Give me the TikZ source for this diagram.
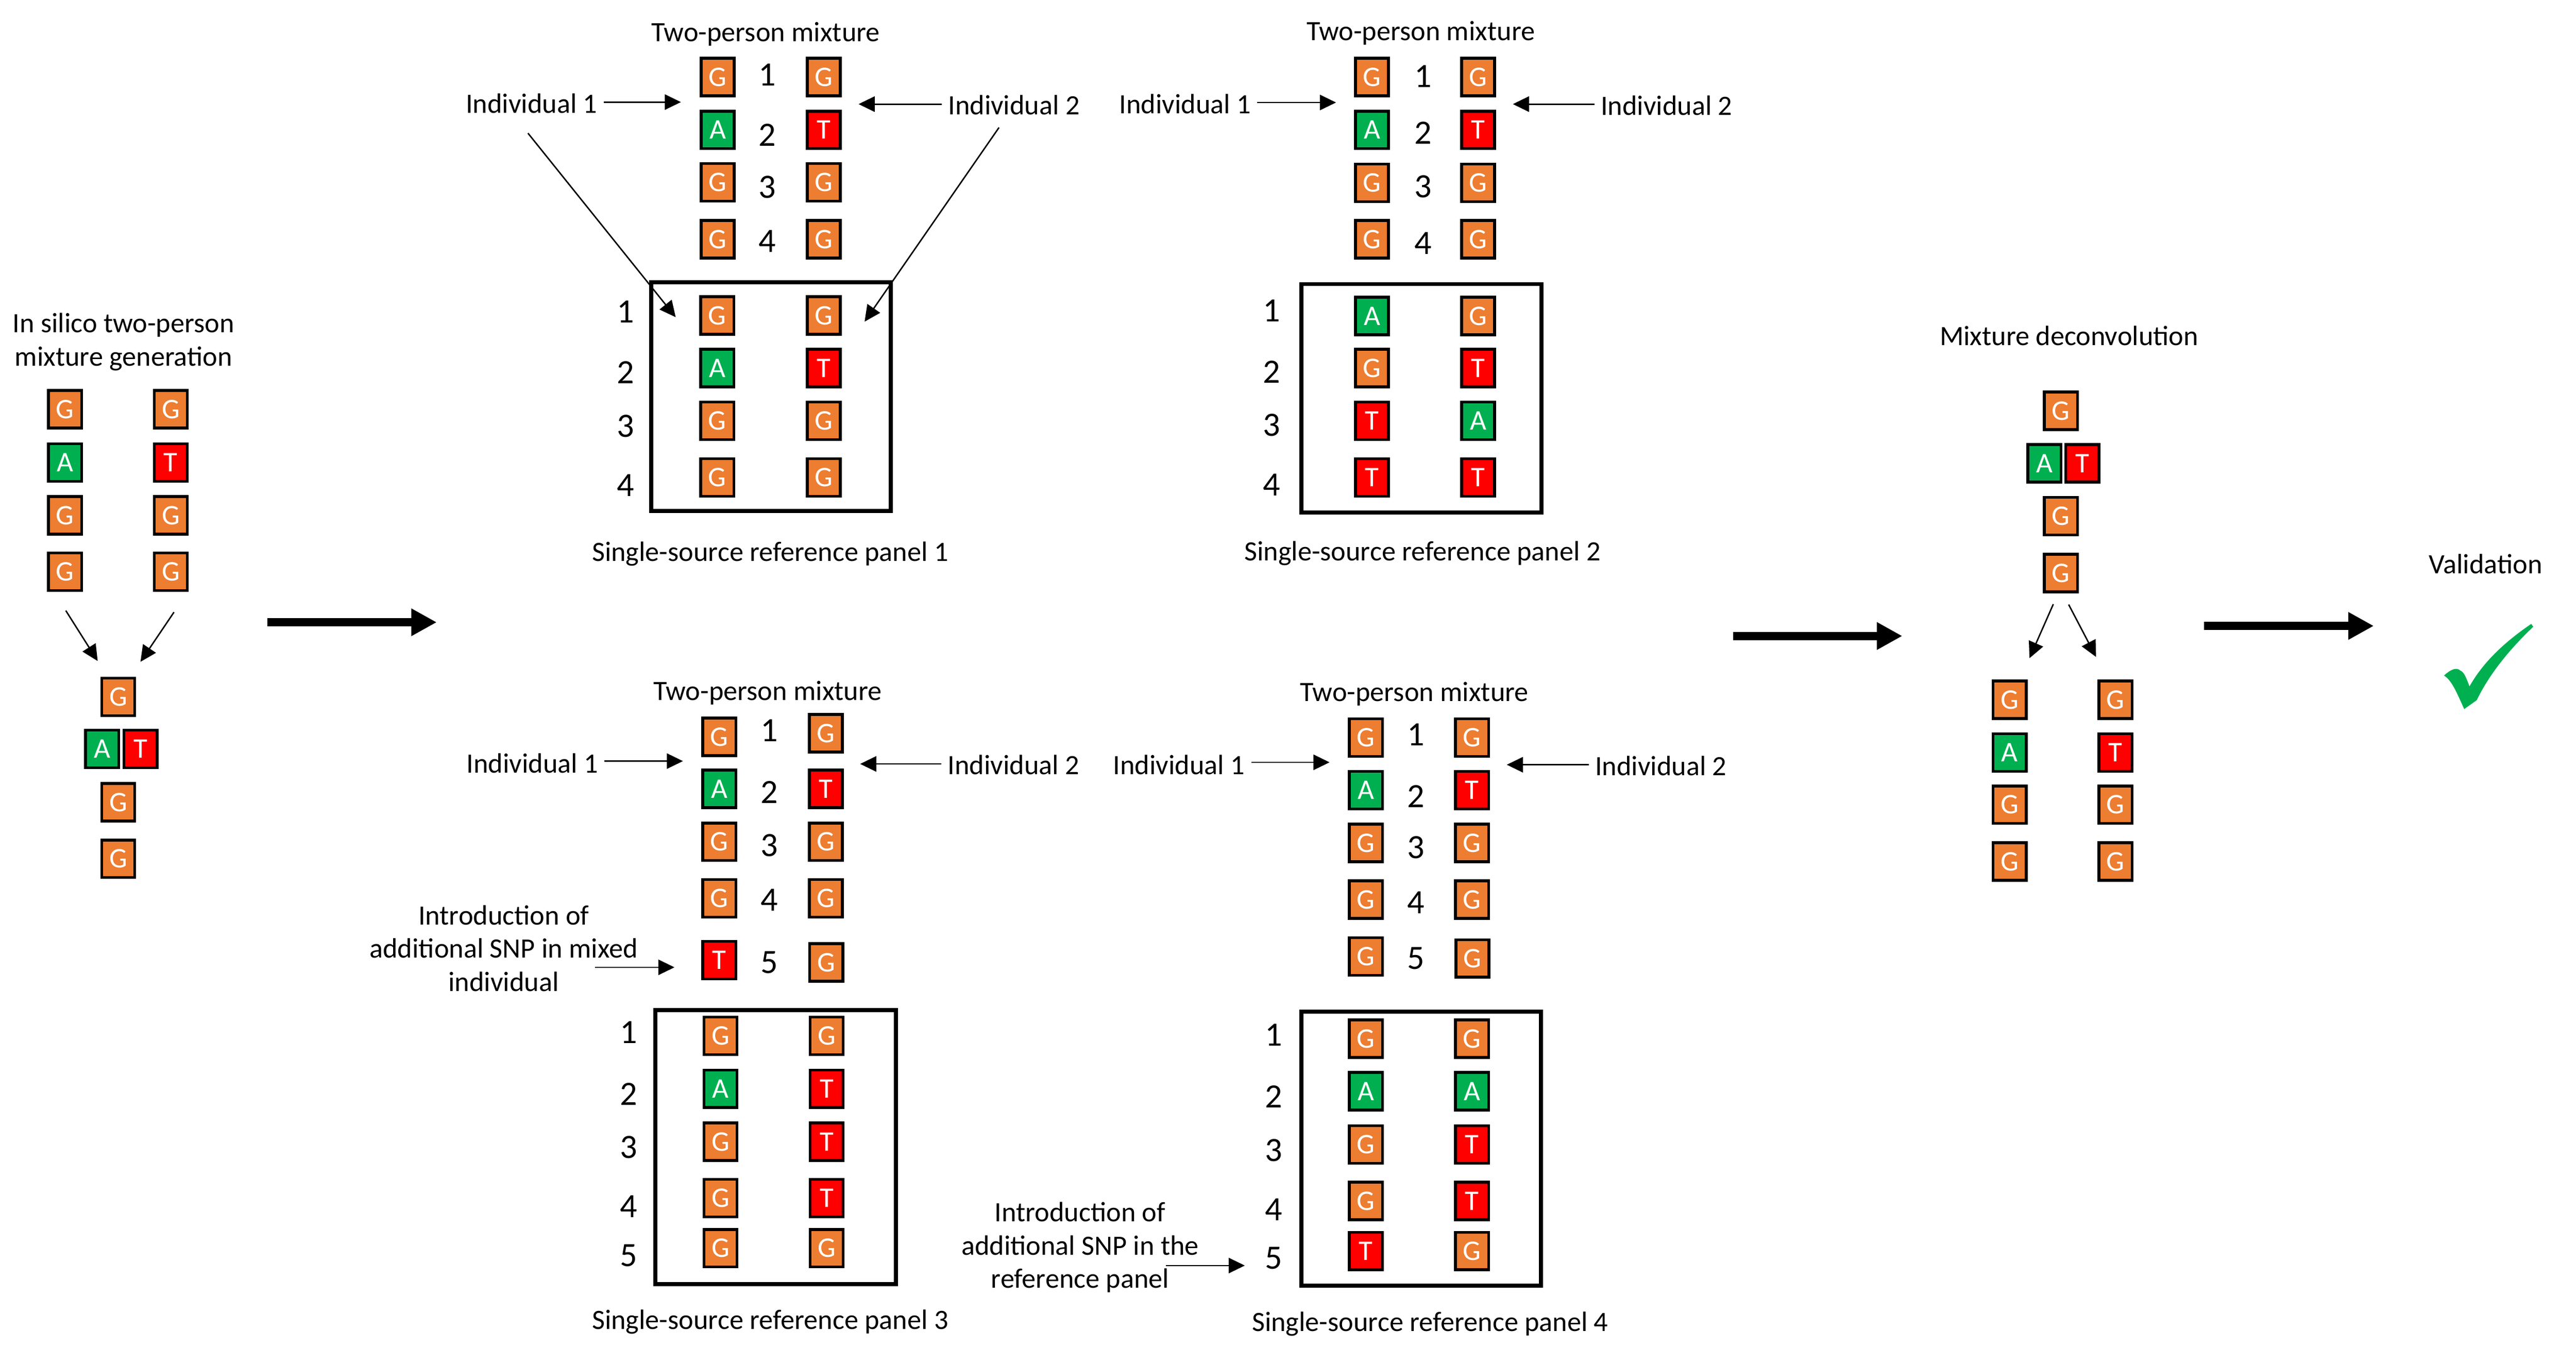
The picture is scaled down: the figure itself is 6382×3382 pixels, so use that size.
\documentclass[tikz,border=0pt]{standalone}
\usepackage{fontspec}
\setmainfont{Carlito}
\usepackage{xcolor}
\usetikzlibrary{arrows.meta}
\definecolor{tileorange}{HTML}{ED7D31}
\definecolor{tilegreen}{HTML}{00B050}
\definecolor{tilered}{HTML}{FF0000}
\tikzset{
  basetile/.style={rectangle, draw=black, line width=0.07cm, minimum width=0.82cm, minimum height=0.93cm, inner sep=0pt, text=white, font=\fontsize{20}{24}\selectfont},
  gtile/.style={basetile, fill=tileorange},
  atile/.style={basetile, fill=tilegreen},
  ttile/.style={basetile, fill=tilered},
  lbl/.style={inner sep=0.15cm, align=center, font=\fontsize{19.7}{23.5}\selectfont},
  numlbl/.style={inner sep=0pt, font=\fontsize{24}{28}\selectfont},
  panelbox/.style={rectangle, draw=black, line width=0.1cm, inner sep=0pt},
  thinarrow/.style={-{Triangle[length=0.4cm, width=0.38cm]}, line width=0.035cm},
  thickarrow/.style={-{Triangle[length=0.63cm, width=0.64cm]}, line width=0.21cm}
}
\begin{document}
\begin{tikzpicture}[x=0.01cm, y=-0.01cm]
        \useasboundingbox (0, 0) rectangle (6382, 3382);

        % generation
        \node[lbl] at (306, 847) (gentitle) {In silico two-person\\mixture generation};
        \node[gtile] at (161, 1014) (il1) {G};
        \node[atile] at (161, 1146) (il2) {A};
        \node[gtile] at (161, 1277) (il3) {G};
        \node[gtile] at (161, 1417) (il4) {G};
        \node[gtile] at (423, 1014) (ir1) {G};
        \node[ttile] at (423, 1146) (ir2) {T};
        \node[gtile] at (423, 1277) (ir3) {G};
        \node[gtile] at (423, 1417) (ir4) {G};
        \node[gtile] at (293, 1727) (mg1) {G};
        \node[atile] at (253, 1856) (mga) {A};
        \node[ttile] at (348, 1856) (mgt) {T};
        \node[gtile] at (293, 1988) (mg3) {G};
        \node[gtile] at (293, 2128) (mg4) {G};
        \draw[thinarrow] ([shift={(2, 46)}]il4.south) -- ([shift={(-51, -39)}]mg1.north);
        \draw[thinarrow] ([shift={(8, 50)}]ir4.south) -- ([shift={(55, -37)}]mg1.north);

        % panel 1
        \node[lbl] at (1897, 84) (p1mtitle) {Two-person mixture};
        \node[gtile] at (1778, 191) (p1ml1) {G};
        \node[atile] at (1778, 322) (p1ml2) {A};
        \node[gtile] at (1778, 452) (p1ml3) {G};
        \node[gtile] at (1778, 593) (p1ml4) {G};
        \node[gtile] at (2041, 191) (p1mr1) {G};
        \node[ttile] at (2041, 322) (p1mr2) {T};
        \node[gtile] at (2041, 452) (p1mr3) {G};
        \node[gtile] at (2041, 593) (p1mr4) {G};
        \node[numlbl] at (1901, 185) (p1mn1) {1};
        \node[numlbl] at (1901, 335) (p1mn2) {2};
        \node[numlbl] at (1901, 464) (p1mn3) {3};
        \node[numlbl] at (1901, 598) (p1mn4) {4};
        \node[lbl] at (1317, 257) (p1ind1) {Individual 1};
        \node[lbl] at (2512, 260) (p1ind2) {Individual 2};
        \node[panelbox, minimum width=5.94cm, minimum height=5.66cm] at (1910, 983) (p1box) {};
        \node[gtile] at (1777, 782) (p1rl1) {G};
        \node[atile] at (1777, 912) (p1rl2) {A};
        \node[gtile] at (1777, 1043) (p1rl3) {G};
        \node[gtile] at (1777, 1183) (p1rl4) {G};
        \node[gtile] at (2041, 782) (p1rr1) {G};
        \node[ttile] at (2041, 912) (p1rr2) {T};
        \node[gtile] at (2041, 1043) (p1rr3) {G};
        \node[gtile] at (2041, 1183) (p1rr4) {G};
        \node[numlbl] at (1550, 772) (p1rn1) {1};
        \node[numlbl] at (1550, 923) (p1rn2) {2};
        \node[numlbl] at (1550, 1056) (p1rn3) {3};
        \node[numlbl] at (1550, 1203) (p1rn4) {4};
        \node[lbl] at (1908, 1372) (p1rtitle) {Single-source reference panel 1};
        \coordinate (p1tip1) at (1687, 253);
        \coordinate (p1tip2) at (2127, 258);
        \coordinate (p1from1) at (1308, 330);
        \coordinate (p1from2) at (2475, 316);
        \coordinate (p1tip3) at (1674, 786);
        \coordinate (p1tip4) at (2142, 797);
        \draw[thinarrow] (p1ind1.east |- p1tip1) -- (p1tip1);
        \draw[thinarrow] (p1ind2.west |- p1tip2) -- (p1tip2);
        \draw[thinarrow] (p1from1) -- (p1tip3);
        \draw[thinarrow] (p1from2) -- (p1tip4);

        % panel 2
        \node[lbl] at (3520, 82) (p2mtitle) {Two-person mixture};
        \node[gtile] at (3399, 191) (p2ml1) {G};
        \node[atile] at (3399, 322) (p2ml2) {A};
        \node[gtile] at (3399, 453) (p2ml3) {G};
        \node[gtile] at (3399, 593) (p2ml4) {G};
        \node[gtile] at (3662, 191) (p2mr1) {G};
        \node[ttile] at (3662, 322) (p2mr2) {T};
        \node[gtile] at (3662, 453) (p2mr3) {G};
        \node[gtile] at (3662, 593) (p2mr4) {G};
        \node[numlbl] at (3526, 189) (p2mn1) {1};
        \node[numlbl] at (3526, 330) (p2mn2) {2};
        \node[numlbl] at (3526, 462) (p2mn3) {3};
        \node[numlbl] at (3526, 603) (p2mn4) {4};
        \node[lbl] at (2936, 258) (p2ind1) {Individual 1};
        \node[lbl] at (4129, 261) (p2ind2) {Individual 2};
        \node[panelbox, minimum width=5.95cm, minimum height=5.66cm] at (3521.5, 987) (p2box) {};
        \node[atile] at (3399, 783) (p2rl1) {A};
        \node[gtile] at (3399, 912) (p2rl2) {G};
        \node[ttile] at (3399, 1043) (p2rl3) {T};
        \node[ttile] at (3399, 1183) (p2rl4) {T};
        \node[gtile] at (3662, 783) (p2rr1) {G};
        \node[ttile] at (3662, 912) (p2rr2) {T};
        \node[atile] at (3662, 1043) (p2rr3) {A};
        \node[ttile] at (3662, 1183) (p2rr4) {T};
        \node[numlbl] at (3151, 770) (p2rn1) {1};
        \node[numlbl] at (3151, 921) (p2rn2) {2};
        \node[numlbl] at (3151, 1053) (p2rn3) {3};
        \node[numlbl] at (3151, 1201) (p2rn4) {4};
        \node[lbl] at (3524, 1371) (p2rtitle) {Single-source reference panel 2};
        \coordinate (p2tip1) at (3310, 254);
        \coordinate (p2tip2) at (3748, 258);
        \draw[thinarrow] (p2ind1.east |- p2tip1) -- (p2tip1);
        \draw[thinarrow] (p2ind2.west |- p2tip2) -- (p2tip2);

        % panel 3
        \node[lbl] at (1902, 1717) (p3mtitle) {Two-person mixture};
        \node[gtile] at (1782, 1826) (p3ml1) {G};
        \node[atile] at (1782, 1955) (p3ml2) {A};
        \node[gtile] at (1782, 2086) (p3ml3) {G};
        \node[gtile] at (1782, 2226) (p3ml4) {G};
        \node[ttile] at (1782, 2379) (p3ml5) {T};
        \node[gtile] at (2046, 1817) (p3mr1) {G};
        \node[ttile] at (2046, 1955) (p3mr2) {T};
        \node[gtile] at (2046, 2086) (p3mr3) {G};
        \node[gtile] at (2046, 2226) (p3mr4) {G};
        \node[gtile] at (2047, 2385) (p3mr5) {G};
        \node[numlbl] at (1906, 1810) (p3mn1) {1};
        \node[numlbl] at (1906, 1963) (p3mn2) {2};
        \node[numlbl] at (1906, 2095) (p3mn3) {3};
        \node[numlbl] at (1906, 2230) (p3mn4) {4};
        \node[numlbl] at (1906, 2385) (p3mn5) {5};
        \node[lbl] at (1319, 1892) (p3ind1) {Individual 1};
        \node[lbl] at (2511, 1895) (p3ind2) {Individual 2};
        \node[lbl] at (1248, 2350) (p3snp) {Introduction of\\additional SNP in mixed\\individual};
        \node[panelbox, minimum width=5.95cm, minimum height=6.79cm] at (1921.5, 2842.5) (p3box) {};
        \node[gtile] at (1785, 2567) (p3rl1) {G};
        \node[atile] at (1785, 2698) (p3rl2) {A};
        \node[gtile] at (1785, 2829) (p3rl3) {G};
        \node[gtile] at (1785, 2969) (p3rl4) {G};
        \node[gtile] at (1785, 3093) (p3rl5) {G};
        \node[gtile] at (2048, 2567) (p3rr1) {G};
        \node[ttile] at (2048, 2698) (p3rr2) {T};
        \node[ttile] at (2048, 2829) (p3rr3) {T};
        \node[ttile] at (2048, 2969) (p3rr4) {T};
        \node[gtile] at (2048, 3093) (p3rr5) {G};
        \node[numlbl] at (1557, 2558) (p3rn1) {1};
        \node[numlbl] at (1557, 2711) (p3rn2) {2};
        \node[numlbl] at (1557, 2843) (p3rn3) {3};
        \node[numlbl] at (1557, 2990) (p3rn4) {4};
        \node[numlbl] at (1557, 3111) (p3rn5) {5};
        \node[lbl] at (1908, 3276) (p3rtitle) {Single-source reference panel 3};
        \coordinate (p3tip1) at (1692, 1886);
        \coordinate (p3tip2) at (2131, 1893);
        \coordinate (p3from3) at (1474, 2397);
        \coordinate (p3tip3) at (1671, 2397);
        \draw[thinarrow] (p3ind1.east |- p3tip1) -- (p3tip1);
        \draw[thinarrow] (p3ind2.west |- p3tip2) -- (p3tip2);
        \draw[thinarrow] (p3from3) -- (p3tip3);

        % panel 4
        \node[lbl] at (3504, 1719) (p4mtitle) {Two-person mixture};
        \node[gtile] at (3384, 1828) (p4ml1) {G};
        \node[atile] at (3384, 1958) (p4ml2) {A};
        \node[gtile] at (3384, 2089) (p4ml3) {G};
        \node[gtile] at (3384, 2229) (p4ml4) {G};
        \node[gtile] at (3384, 2370) (p4ml5) {G};
        \node[gtile] at (3647, 1828) (p4mr1) {G};
        \node[ttile] at (3647, 1958) (p4mr2) {T};
        \node[gtile] at (3647, 2089) (p4mr3) {G};
        \node[gtile] at (3647, 2229) (p4mr4) {G};
        \node[gtile] at (3648, 2375) (p4mr5) {G};
        \node[numlbl] at (3508, 1821) (p4mn1) {1};
        \node[numlbl] at (3508, 1973) (p4mn2) {2};
        \node[numlbl] at (3508, 2100) (p4mn3) {3};
        \node[numlbl] at (3508, 2236) (p4mn4) {4};
        \node[numlbl] at (3508, 2375) (p4mn5) {5};
        \node[lbl] at (2921, 1895) (p4ind1) {Individual 1};
        \node[lbl] at (4115, 1898) (p4ind2) {Individual 2};
        \node[lbl] at (2676, 3091) (p4snp) {Introduction of\\additional SNP in the\\reference panel};
        \node[panelbox, minimum width=5.94cm, minimum height=6.79cm] at (3521, 2846.5) (p4box) {};
        \node[gtile] at (3384, 2574) (p4rl1) {G};
        \node[atile] at (3384, 2704) (p4rl2) {A};
        \node[gtile] at (3384, 2836) (p4rl3) {G};
        \node[gtile] at (3384, 2976) (p4rl4) {G};
        \node[ttile] at (3384, 3100) (p4rl5) {T};
        \node[gtile] at (3647, 2574) (p4rr1) {G};
        \node[atile] at (3647, 2704) (p4rr2) {A};
        \node[ttile] at (3647, 2836) (p4rr3) {T};
        \node[ttile] at (3647, 2976) (p4rr4) {T};
        \node[gtile] at (3647, 3100) (p4rr5) {G};
        \node[numlbl] at (3156, 2565) (p4rn1) {1};
        \node[numlbl] at (3156, 2717) (p4rn2) {2};
        \node[numlbl] at (3156, 2850) (p4rn3) {3};
        \node[numlbl] at (3156, 2997) (p4rn4) {4};
        \node[numlbl] at (3156, 3117) (p4rn5) {5};
        \node[lbl] at (3543, 3281) (p4rtitle) {Single-source reference panel 4};
        \coordinate (p4tip1) at (3294, 1889);
        \coordinate (p4tip2) at (3733, 1895);
        \coordinate (p4from3) at (2888, 3136);
        \coordinate (p4tip3) at (3084, 3136);
        \draw[thinarrow] (p4ind1.east |- p4tip1) -- (p4tip1);
        \draw[thinarrow] (p4ind2.west |- p4tip2) -- (p4tip2);
        \draw[thinarrow] (p4from3) -- (p4tip3);

        % deconvolution
        \node[lbl] at (5126, 832) (dectitle) {Mixture deconvolution};
        \node[gtile] at (5106, 1018) (dg1) {G};
        \node[atile] at (5065, 1148) (dga) {A};
        \node[ttile] at (5159, 1148) (dgt) {T};
        \node[gtile] at (5106, 1279) (dg3) {G};
        \node[gtile] at (5106, 1420) (dg4) {G};
        \node[gtile] at (4979, 1734) (dl1) {G};
        \node[atile] at (4979, 1865) (dl2) {A};
        \node[gtile] at (4979, 1994) (dl3) {G};
        \node[gtile] at (4979, 2135) (dl4) {G};
        \node[gtile] at (5241, 1734) (dr1) {G};
        \node[ttile] at (5241, 1865) (dr2) {T};
        \node[gtile] at (5241, 1994) (dr3) {G};
        \node[gtile] at (5241, 2135) (dr4) {G};
        \draw[thinarrow] ([shift={(-19, 27)}]dg4.south) -- ([shift={(49, -53)}]dl1.north);
        \draw[thinarrow] ([shift={(19, 28)}]dg4.south) -- ([shift={(-48, -56)}]dr1.north);

        % validation
        \node[lbl] at (6158, 1398) (valtitle) {Validation};
        \fill[tilegreen] (6105, 1757) -- (6136, 1735) .. controls (6164, 1677) and (6209, 1617) .. (6276, 1553) -- (6271, 1546) .. controls (6192, 1600) and (6147, 1650) .. (6118, 1701) .. controls (6112, 1685) and (6105, 1665) .. (6096, 1662) .. controls (6085, 1652) and (6070, 1660) .. (6055, 1674) .. controls (6074, 1686) and (6085, 1713) .. (6105, 1757) -- cycle;

        % steps
        \coordinate (s1from) at (662, 1542);
        \coordinate (s1to) at (1082, 1542);
        \coordinate (s2from) at (4294, 1576);
        \coordinate (s2to) at (4713, 1576);
        \coordinate (s3from) at (5460, 1551);
        \coordinate (s3to) at (5881, 1551);
        \draw[thickarrow] (s1from) -- (s1to);
        \draw[thickarrow] (s2from) -- (s2to);
        \draw[thickarrow] (s3from) -- (s3to);
    \end{tikzpicture}
\end{document}
